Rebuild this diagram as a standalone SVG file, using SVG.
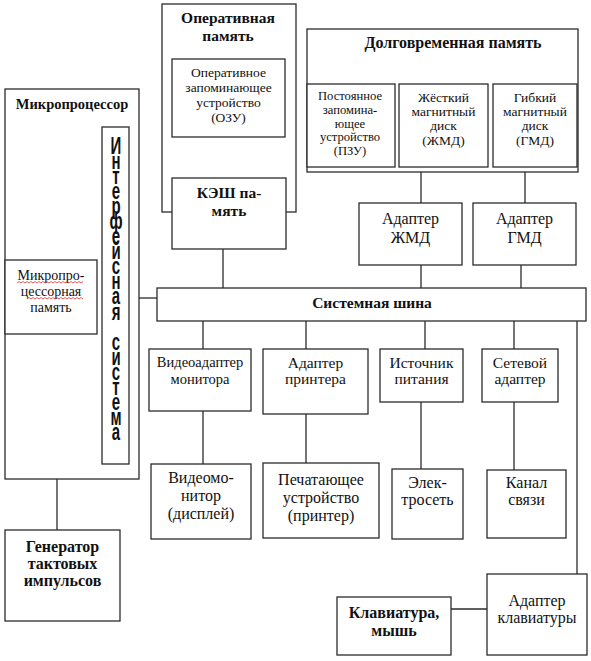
<svg xmlns="http://www.w3.org/2000/svg" width="591" height="661" viewBox="0 0 591 661" font-family="'Liberation Serif', 'DejaVu Serif', serif">
<style>
  rect.b { fill: #fff; stroke: #2b2b2b; stroke-width: 1.3; }
  .c line { stroke: #2b2b2b; stroke-width: 1.3; fill: none; }
  text { font-family: "Liberation Serif", "DejaVu Serif", serif; fill: #111; text-anchor: middle; }
  .bold { font-weight: bold; font-size: 16px; }
  .s12 { font-size: 12.6px; }
  .s13 { font-size: 13.5px; }
  .s14 { font-size: 14.5px; }
  .s15 { font-size: 15.5px; }
  .s16 { font-size: 16px; }
  text.vert { font-family: "Liberation Sans", "DejaVu Sans", sans-serif; font-weight: bold; font-size: 15px; }
  .squig { stroke: #e03030; stroke-width: 0.8; fill: none; }
</style>
<rect x="0" y="0" width="591" height="661" fill="#fff"/>

<g class="c" id="connectors">
  <line x1="223" y1="249" x2="223" y2="288"/>
  <line x1="139" y1="298" x2="157" y2="298"/>
  <line x1="421" y1="167" x2="421" y2="203"/>
  <line x1="525" y1="167" x2="525" y2="203"/>
  <line x1="421" y1="265" x2="421" y2="288"/>
  <line x1="521" y1="265" x2="521" y2="288"/>
  <line x1="203" y1="321" x2="203" y2="349"/>
  <line x1="306" y1="321" x2="306" y2="349"/>
  <line x1="425" y1="321" x2="425" y2="349"/>
  <line x1="514" y1="321" x2="514" y2="349"/>
  <line x1="203" y1="411" x2="203" y2="464"/>
  <line x1="306" y1="414" x2="306" y2="463"/>
  <line x1="421" y1="402" x2="421" y2="469"/>
  <line x1="514" y1="402" x2="514" y2="470"/>
  <line x1="577" y1="321" x2="577" y2="574"/>
  <line x1="57" y1="479" x2="57" y2="530"/>
  <line x1="451" y1="609" x2="487" y2="609"/>
</g>

<g id="ram">
  <rect class="b" x="162" y="4" width="134" height="208"/>
  <text class="bold" x="228" y="23" style="font-size:15.5px">Оперативная</text>
  <text class="bold" x="228" y="41" style="font-size:15.5px">память</text>
</g>
<g id="ozu">
  <rect class="b" x="172" y="59" width="113" height="78"/>
  <text class="s13" x="228.5" y="77">Оперативное</text>
  <text class="s13" x="228.5" y="92">запоминающее</text>
  <text class="s13" x="228.5" y="107">устройство</text>
  <text class="s13" x="228.5" y="122">(ОЗУ)</text>
</g>
<g id="cache">
  <rect class="b" x="172" y="178" width="114" height="71"/>
  <text class="bold" x="229" y="198" style="font-size:15.5px">КЭШ па-</text>
  <text class="bold" x="229" y="216" style="font-size:15.5px">мять</text>
</g>

<g id="longterm">
  <rect class="b" x="307" y="29" width="271" height="143"/>
  <text class="bold" x="453" y="48">Долговременная память</text>
</g>
<g id="pzu">
  <rect class="b" x="307" y="84" width="88" height="83"/>
  <text class="s12" x="350" y="100">Постоянное</text>
  <text class="s12" x="350" y="113.8">запомина-</text>
  <text class="s12" x="350" y="127.6">ющее</text>
  <text class="s12" x="350" y="141.4">устройство</text>
  <text class="s12" x="350" y="155.2">(ПЗУ)</text>
</g>
<g id="hdd">
  <rect class="b" x="399" y="84" width="89" height="83"/>
  <text class="s13" x="443.5" y="102">Жёсткий</text>
  <text class="s13" x="443.5" y="116">магнитный</text>
  <text class="s13" x="443.5" y="130">диск</text>
  <text class="s13" x="443.5" y="145">(ЖМД)</text>
</g>
<g id="fdd">
  <rect class="b" x="493" y="84" width="84" height="83"/>
  <text class="s13" x="535" y="102">Гибкий</text>
  <text class="s13" x="535" y="116">магнитный</text>
  <text class="s13" x="535" y="130">диск</text>
  <text class="s13" x="535" y="145">(ГМД)</text>
</g>
<g id="hdd-adapter">
  <rect class="b" x="359" y="203" width="103" height="62"/>
  <text class="s16" x="410.5" y="224">Адаптер</text>
  <text class="s16" x="410.5" y="243">ЖМД</text>
</g>
<g id="fdd-adapter">
  <rect class="b" x="473" y="203" width="103" height="62"/>
  <text class="s16" x="524.5" y="224">Адаптер</text>
  <text class="s16" x="524.5" y="243">ГМД</text>
</g>

<g id="cpu">
  <rect class="b" x="5" y="89" width="134" height="390"/>
  <text class="bold" x="72" y="109" style="font-size:14.5px">Микропроцессор</text>
</g>
<g id="cpu-mem">
  <rect class="b" x="5" y="260" width="92" height="74"/>
  <text x="51" y="280" style="font-size:14px">Микропро-</text>
  <text x="51" y="296" style="font-size:14px">цессорная</text>
  <text x="51" y="312" style="font-size:14px">память</text>
  <path class="squig" d="M17 283 l2 -1.5 l2 1.5 l2 -1.5 l2 1.5 l2 -1.5 l2 1.5 l2 -1.5 l2 1.5 l2 -1.5 l2 1.5 l2 -1.5 l2 1.5 l2 -1.5 l2 1.5 l2 -1.5 l2 1.5 l2 -1.5 l2 1.5 l2 -1.5 l2 1.5 l2 -1.5 l2 1.5 l2 -1.5 l2 1.5 l2 -1.5 l2 1.5 l2 -1.5 l2 1.5 l2 -1.5 l2 1.5 l2 -1.5 l2 1.5 l2 -1.5"/>
  <path class="squig" d="M27 299 l2 -1.5 l2 1.5 l2 -1.5 l2 1.5 l2 -1.5 l2 1.5 l2 -1.5 l2 1.5 l2 -1.5 l2 1.5 l2 -1.5 l2 1.5 l2 -1.5 l2 1.5 l2 -1.5 l2 1.5 l2 -1.5 l2 1.5 l2 -1.5 l2 1.5 l2 -1.5 l2 1.5 l2 -1.5 l2 1.5 l2 -1.5 l2 1.5 l2 -1.5 l2 1.5"/>
</g>
<g id="interface">
  <rect class="b" x="102" y="127" width="27" height="337"/>
  <text class="vert" transform="translate(116,0) scale(1,1.55)" x="0 0 0 0 0 0 0 0 0 0 0 0 0 0 0 0 0 0 0 0" y="99.35 109.06 118.77 128.48 138.19 147.9 157.61 167.32 177.03 186.74 196.45 206.16 215.87 225.58 235.29 245 254.71 264.42 274.13 283.84">Интерфейсная система</text>
</g>
<g id="clock">
  <rect class="b" x="5" y="530" width="115" height="91"/>
  <text class="bold" x="62.5" y="552">Генератор</text>
  <text class="bold" x="62.5" y="569">тактовых</text>
  <text class="bold" x="62.5" y="586">импульсов</text>
</g>

<g id="bus">
  <rect class="b" x="157" y="288" width="429" height="33"/>
  <text class="bold" x="372" y="308" style="font-size:15.5px">Системная шина</text>
</g>

<g id="video-adapter">
  <rect class="b" x="149" y="349" width="102" height="62"/>
  <text class="s14" x="200" y="367">Видеоадаптер</text>
  <text class="s14" x="200" y="384">монитора</text>
</g>
<g id="printer-adapter">
  <rect class="b" x="263" y="349" width="105" height="65"/>
  <text class="s15" x="315.5" y="368">Адаптер</text>
  <text class="s15" x="315.5" y="384">принтера</text>
</g>
<g id="power">
  <rect class="b" x="380" y="349" width="83" height="53"/>
  <text class="s15" x="421.5" y="368">Источник</text>
  <text class="s15" x="421.5" y="384">питания</text>
</g>
<g id="net-adapter">
  <rect class="b" x="482" y="349" width="76" height="53"/>
  <text class="s15" x="520" y="368">Сетевой</text>
  <text class="s15" x="520" y="384">адаптер</text>
</g>

<g id="monitor">
  <rect class="b" x="151" y="464" width="100" height="75"/>
  <text class="s16" x="201" y="483">Видеомо-</text>
  <text class="s16" x="201" y="501">нитор</text>
  <text class="s16" x="201" y="519">(дисплей)</text>
</g>
<g id="printer">
  <rect class="b" x="263" y="463" width="116" height="75"/>
  <text class="s16" x="321" y="485">Печатающее</text>
  <text class="s16" x="321" y="503">устройство</text>
  <text class="s16" x="321" y="521">(принтер)</text>
</g>
<g id="mains">
  <rect class="b" x="392" y="469" width="71" height="70"/>
  <text class="s16" x="427.5" y="488">Элек-</text>
  <text class="s16" x="427.5" y="505">тросеть</text>
</g>
<g id="channel">
  <rect class="b" x="487" y="470" width="79" height="68"/>
  <text class="s16" x="526.5" y="488">Канал</text>
  <text class="s16" x="526.5" y="505">связи</text>
</g>

<g id="kbd-adapter">
  <rect class="b" x="487" y="574" width="100" height="81"/>
  <text class="s16" x="537" y="606">Адаптер</text>
  <text class="s16" x="537" y="623">клавиатуры</text>
</g>
<g id="keyboard">
  <rect class="b" x="337" y="597" width="114" height="58"/>
  <text class="bold" x="394" y="618">Клавиатура,</text>
  <text class="bold" x="394" y="636">мышь</text>
</g>
</svg>
